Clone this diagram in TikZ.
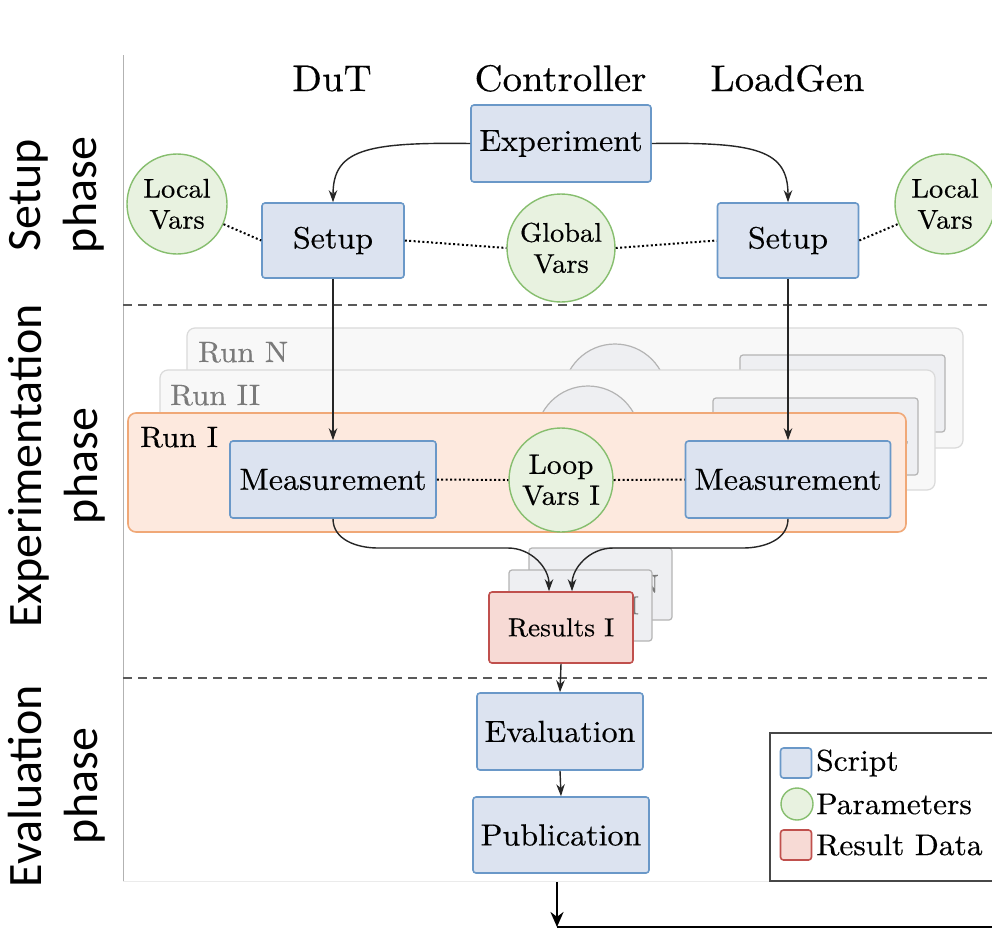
\documentclass[tikz,border=0pt]{standalone}
\usepackage{fontspec}
\setmainfont{lmroman10-regular.otf}[FakeStretch=1.05, FakeBold=0.4]
\newfontfamily\phasefont{Carlito}
\usetikzlibrary{arrows.meta}

\definecolor{scriptfill}{HTML}{DCE3F0}
\definecolor{scriptline}{HTML}{6A98C8}
\definecolor{parfill}{HTML}{E8F2E0}
\definecolor{parline}{HTML}{86BE6E}
\definecolor{resfill}{HTML}{F7DAD5}
\definecolor{resline}{HTML}{C0504D}
\definecolor{runfill}{HTML}{FDE9DE}
\definecolor{runline}{HTML}{F0A877}
\definecolor{ghostpanel}{HTML}{F8F8F8}
\definecolor{ghostpanelline}{HTML}{DADADA}
\definecolor{ghostfill}{HTML}{EEEFF2}
\definecolor{ghostline}{HTML}{B4B4B4}
\definecolor{ghosttext}{HTML}{7A7A7A}
\definecolor{arrowgray}{HTML}{262626}

\begin{document}
\begin{tikzpicture}[x=1pt,y=-1pt,
  boxtext/.style={font=\fontsize{30.5}{36}\selectfont},
  script/.style={draw=scriptline, fill=scriptfill, line width=1.6pt,
    rounded corners=3pt, inner sep=0pt, boxtext},
  param/.style={circle, draw=parline, fill=parfill, line width=1.4pt,
    inner sep=0pt, align=center, font=\fontsize{27}{31}\selectfont},
  resbox/.style={draw=resline, fill=resfill, line width=1.6pt,
    rounded corners=3pt, inner sep=0pt, font=\fontsize{26}{30}\selectfont},
  ghostbox/.style={draw=ghostline, fill=ghostfill, line width=1.2pt,
    rounded corners=3pt, inner sep=0pt, text=ghosttext},
  ghostcircle/.style={circle, draw=ghostline, fill=ghostfill, line width=1.2pt,
    inner sep=0pt, align=center, text=ghosttext, font=\fontsize{28}{31}\selectfont},
  ghostrun/.style={draw=ghostpanelline, fill=ghostpanel, line width=1.2pt,
    rounded corners=8pt},
  runlabel/.style={anchor=base west, inner sep=0pt, font=\fontsize{29.5}{34}\selectfont},
  header/.style={anchor=base, inner sep=0pt, font=\fontsize{37}{42}\selectfont},
  phaselabel/.style={rotate=90, align=center, inner sep=0pt,
    font=\phasefont\fontsize{48}{56}\selectfont},
  flow/.style={draw=arrowgray, line width=1.4pt,
    -{Stealth[length=12pt,width=8.5pt]}},
  varlink/.style={line width=2pt, dash pattern=on 2pt off 2.4pt},
  phasesep/.style={draw=black!65, line width=1.6pt, dash pattern=on 9pt off 6pt},
  legendtext/.style={anchor=west, inner sep=0pt, font=\fontsize{30}{36}\selectfont}
]
\path[use as bounding box, clip] (0,0) rectangle (992,932);
\fill[white] (0,0) rectangle (992,932);

% frame of the phase area
\draw[black!30, line width=1pt] (123,55) -- (123,881);
\draw[black!8, line width=1pt] (123,881) -- (992,881);

% phase separators
\draw[phasesep] (123,305) -- (992,305);
\draw[phasesep] (123,678) -- (992,678);

% phase titles
\node[phaselabel] (phSetup) at (57,195) {Setup\\phase};
\node[phaselabel] (phExp) at (57,466) {Experimentation\\phase};
\node[phaselabel] (phEval) at (57,786) {Evaluation\\phase};

% column headers
\node[header] (hDut) at (332,91) {DuT};
\node[header] (hCtrl) at (560.5,91) {Controller};
\node[header] (hLoad) at (787.5,91) {LoadGen};

% ---- setup phase ----
\node[script, minimum width=180pt, minimum height=77pt] (exp) at (561,143.5) {Experiment};
\node[script, minimum width=142pt, minimum height=75pt] (setupL) at (333,240.5) {Setup};
\node[script, minimum width=141pt, minimum height=75pt] (setupR) at (788,240.5) {Setup};
\node[param, minimum size=108pt] (global) at (561,248) {Global\\Vars};
\node[param, minimum size=100pt] (localL) at (177,204) {Local\\Vars};
\node[param, minimum size=100pt] (localR) at (945,204) {Local\\Vars};

\draw[flow] (exp.west) .. controls (365,142) and (333,150) .. (setupL.north);
\draw[flow] (exp.east) .. controls (757,142) and (788,150) .. (setupR.north);

\draw[varlink] (localL) -- (setupL.west);
\draw[varlink] (setupL.east) -- (global.west);
\draw[varlink] (global.east) -- (setupR.west);
\draw[varlink] (setupR.east) -- (localR);

% ---- experimentation phase: stacked runs ----
% run N (back)
\draw[ghostrun] (187,328) rectangle (963,448);
\node[runlabel, text=ghosttext] (runN) at (198,362) {Run N};
\node[ghostcircle, minimum size=104pt] (loopN) at (615,396) {Loop\\Vars N};
\node[ghostbox, boxtext, minimum width=205pt, minimum height=77pt] (measN) at (842.5,393.5) {Measurement};

% run II (middle)
\draw[ghostrun] (160,370) rectangle (935,490);
\node[runlabel, text=ghosttext] (runII) at (170,405) {Run II};
\node[ghostcircle, minimum size=104pt] (loopII) at (588,438) {Loop\\Vars II};
\node[ghostbox, boxtext, minimum width=205pt, minimum height=77pt] (measII) at (815.5,436.5) {Measurement};

% run I (front)
\draw[draw=runline, fill=runfill, line width=1.6pt, rounded corners=8pt] (128,413) rectangle (906,532);
\node[runlabel] (runI) at (140,447) {Run I};
\node[script, minimum width=206pt, minimum height=77pt] (measL) at (333,479.5) {Measurement};
\node[script, minimum width=205pt, minimum height=77pt] (measR) at (788,479.5) {Measurement};
\node[param, minimum size=104pt, font=\fontsize{28}{31}\selectfont] (loopI) at (561,480) {Loop\\Vars I};

\draw[varlink] (measL.east) -- (loopI.west);
\draw[varlink] (loopI.east) -- (measR.west);

\draw[flow] (setupL.south) -- (measL.north);
\draw[flow] (setupR.south) -- (measR.north);

% stacked result cards
\node[ghostbox, minimum width=143pt, minimum height=72pt, font=\fontsize{26}{30}\selectfont] (resN) at (600.5,584) {Results N};
\node[ghostbox, minimum width=143pt, minimum height=71pt, font=\fontsize{26}{30}\selectfont] (resII) at (580.5,605.5) {Results II};
\node[resbox, minimum width=144pt, minimum height=71pt] (resI) at (561,627.5) {Results I};

\coordinate (jl1) at (378,548);
\coordinate (jl2) at (508,548);
\coordinate (jr1) at (743,548);
\coordinate (jr2) at (613,548);
\draw[flow] (measL.south) to[out=-90,in=180] (jl1) -- (jl2)
  to[out=0,in=90] ([xshift=-12pt]resI.north);
\draw[flow] (measR.south) to[out=-90,in=0] (jr1) -- (jr2)
  to[out=180,in=90] ([xshift=11pt]resI.north);

% ---- evaluation phase ----
\node[script, minimum width=166pt, minimum height=77pt] (eval) at (560,731.5) {Evaluation};
\node[script, minimum width=176pt, minimum height=76pt] (pub) at (561,835) {Publication};

\draw[flow] (resI.south) -- (eval.north);
\draw[flow] (eval.south) -- (pub.north);

% outgoing result
\coordinate (outTop) at (557,882);
\coordinate (outCorner) at (557,927);
\coordinate (outEnd) at (992,927);
\draw[line width=2.5pt, -{Stealth[length=15pt,width=13pt]}] (outTop) -- (outCorner);
\draw[line width=2.5pt] (outCorner) -- (outEnd);

% legend
\draw[draw=black!72, fill=white, line width=2.2pt] (770,733) rectangle (1005,881);
\node[draw=scriptline, fill=scriptfill, line width=1.6pt, rounded corners=3pt,
  minimum width=31pt, minimum height=30pt, inner sep=0pt] (lgScript) at (796,763) {};
\node[circle, draw=parline, fill=parfill, line width=1.4pt, minimum size=32pt,
  inner sep=0pt] (lgPar) at (797,804) {};
\node[draw=resline, fill=resfill, line width=1.6pt, rounded corners=3pt,
  minimum width=31pt, minimum height=30pt, inner sep=0pt] (lgRes) at (796,845) {};
\node[legendtext] (lgScriptT) at (816,763) {Script};
\node[legendtext] (lgParT) at (816,804) {Parameters};
\node[legendtext] (lgResT) at (816,845) {Result Data};
\end{tikzpicture}
\end{document}
